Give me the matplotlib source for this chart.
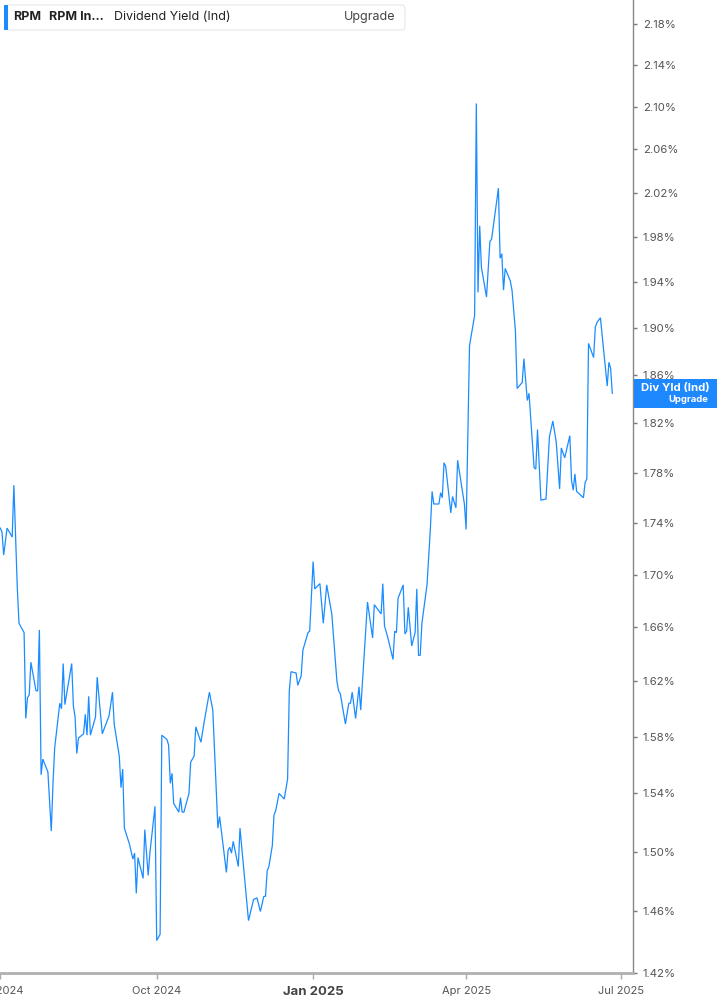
import matplotlib
matplotlib.use("Agg")
import matplotlib.pyplot as plt
import matplotlib.dates as mdates
from matplotlib.ticker import FixedLocator, FuncFormatter, NullLocator
from matplotlib.patches import FancyBboxPatch, Rectangle
import pandas as pd

dates = [
    "2024-07-01", "2024-07-02", "2024-07-03", "2024-07-05", "2024-07-08", "2024-07-09", "2024-07-11", "2024-07-12",
    "2024-07-15", "2024-07-16", "2024-07-17", "2024-07-18", "2024-07-19", "2024-07-22", "2024-07-23", "2024-07-24",
    "2024-07-25", "2024-07-26", "2024-07-29", "2024-07-31", "2024-08-01", "2024-08-02", "2024-08-05", "2024-08-06",
    "2024-08-07", "2024-08-08", "2024-08-12", "2024-08-13", "2024-08-14", "2024-08-15", "2024-08-16", "2024-08-19",
    "2024-08-20", "2024-08-21", "2024-08-22", "2024-08-23", "2024-08-26", "2024-08-27", "2024-08-30", "2024-09-03",
    "2024-09-05", "2024-09-06", "2024-09-09", "2024-09-10", "2024-09-11", "2024-09-12", "2024-09-15", "2024-09-17",
    "2024-09-18", "2024-09-19", "2024-09-20", "2024-09-23", "2024-09-24", "2024-09-26", "2024-09-27", "2024-09-30",
    "2024-10-01", "2024-10-03", "2024-10-04", "2024-10-07", "2024-10-08", "2024-10-09", "2024-10-10", "2024-10-11",
    "2024-10-14", "2024-10-15", "2024-10-16", "2024-10-17", "2024-10-20", "2024-10-21", "2024-10-23", "2024-10-24",
    "2024-10-27", "2024-10-29", "2024-11-01", "2024-11-03", "2024-11-06", "2024-11-07", "2024-11-11", "2024-11-12",
    "2024-11-13", "2024-11-14", "2024-11-15", "2024-11-18", "2024-11-19", "2024-11-22", "2024-11-24", "2024-11-27",
    "2024-11-29", "2024-12-01", "2024-12-03", "2024-12-04", "2024-12-05", "2024-12-06", "2024-12-08", "2024-12-09",
    "2024-12-10", "2024-12-12", "2024-12-15", "2024-12-17", "2024-12-18", "2024-12-19", "2024-12-22", "2024-12-23",
    "2024-12-25", "2024-12-26", "2024-12-29", "2024-12-30", "2025-01-01", "2025-01-02", "2025-01-05", "2025-01-07",
    "2025-01-09", "2025-01-12", "2025-01-15", "2025-01-16", "2025-01-17", "2025-01-20", "2025-01-22", "2025-01-23",
    "2025-01-24", "2025-01-26", "2025-01-28", "2025-01-29", "2025-02-02", "2025-02-05", "2025-02-06", "2025-02-10",
    "2025-02-11", "2025-02-12", "2025-02-14", "2025-02-17", "2025-02-18", "2025-02-19", "2025-02-20", "2025-02-23",
    "2025-02-24", "2025-02-25", "2025-02-26", "2025-02-28", "2025-03-02", "2025-03-03", "2025-03-04", "2025-03-05",
    "2025-03-06", "2025-03-09", "2025-03-11", "2025-03-12", "2025-03-13", "2025-03-16", "2025-03-17", "2025-03-18",
    "2025-03-19", "2025-03-20", "2025-03-23", "2025-03-24", "2025-03-26", "2025-03-27", "2025-03-30", "2025-03-31",
    "2025-04-01", "2025-04-03", "2025-04-06", "2025-04-07", "2025-04-08", "2025-04-09", "2025-04-10", "2025-04-13",
    "2025-04-15", "2025-04-16", "2025-04-20", "2025-04-21", "2025-04-22", "2025-04-23", "2025-04-24", "2025-04-27",
    "2025-04-28", "2025-04-30", "2025-05-01", "2025-05-04", "2025-05-05", "2025-05-07", "2025-05-08", "2025-05-10",
    "2025-05-11", "2025-05-12", "2025-05-13", "2025-05-15", "2025-05-18", "2025-05-20", "2025-05-22", "2025-05-24",
    "2025-05-26", "2025-05-27", "2025-05-29", "2025-06-01", "2025-06-02", "2025-06-03", "2025-06-04", "2025-06-05",
    "2025-06-09", "2025-06-10", "2025-06-11", "2025-06-12", "2025-06-15", "2025-06-16", "2025-06-17", "2025-06-19",
    "2025-06-23", "2025-06-24", "2025-06-25", "2025-06-26",
]

div_yield = [
    1.736, 1.733, 1.715, 1.736, 1.729, 1.770, 1.690, 1.663,
    1.656, 1.593, 1.608, 1.610, 1.634, 1.613, 1.613, 1.658,
    1.553, 1.564, 1.555, 1.514, 1.547, 1.572, 1.604, 1.600,
    1.633, 1.603, 1.633, 1.602, 1.594, 1.568, 1.579, 1.582,
    1.596, 1.581, 1.609, 1.581, 1.594, 1.623, 1.582, 1.595,
    1.612, 1.589, 1.566, 1.544, 1.557, 1.516, 1.505, 1.495,
    1.499, 1.472, 1.496, 1.482, 1.515, 1.484, 1.499, 1.531,
    1.441, 1.445, 1.581, 1.578, 1.574, 1.547, 1.554, 1.533,
    1.527, 1.537, 1.527, 1.527, 1.540, 1.562, 1.566, 1.587,
    1.576, 1.591, 1.612, 1.599, 1.516, 1.524, 1.486, 1.501,
    1.503, 1.499, 1.507, 1.490, 1.516, 1.478, 1.454, 1.468,
    1.469, 1.460, 1.470, 1.470, 1.487, 1.490, 1.504, 1.525,
    1.528, 1.540, 1.536, 1.550, 1.613, 1.627, 1.626, 1.617,
    1.624, 1.643, 1.656, 1.657, 1.710, 1.689, 1.693, 1.663,
    1.692, 1.670, 1.620, 1.613, 1.611, 1.589, 1.604, 1.604,
    1.612, 1.593, 1.616, 1.599, 1.679, 1.652, 1.677, 1.670,
    1.693, 1.661, 1.652, 1.636, 1.657, 1.656, 1.682, 1.692,
    1.655, 1.657, 1.675, 1.646, 1.656, 1.689, 1.639, 1.639,
    1.663, 1.692, 1.736, 1.765, 1.755, 1.755, 1.764, 1.760,
    1.788, 1.785, 1.748, 1.761, 1.752, 1.790, 1.764, 1.755,
    1.735, 1.885, 1.911, 2.103, 1.931, 1.990, 1.953, 1.927,
    1.976, 1.978, 2.024, 1.961, 1.965, 1.933, 1.952, 1.941,
    1.933, 1.898, 1.849, 1.854, 1.874, 1.839, 1.845, 1.804,
    1.784, 1.783, 1.815, 1.758, 1.759, 1.809, 1.822, 1.805,
    1.767, 1.800, 1.792, 1.810, 1.774, 1.766, 1.779, 1.765,
    1.760, 1.772, 1.775, 1.887, 1.875, 1.901, 1.905, 1.909,
    1.851, 1.871, 1.866, 1.845,
]

y_ticks = [1.42, 1.46, 1.50, 1.54, 1.58, 1.62, 1.66, 1.70, 1.74, 1.78,
           1.82, 1.86, 1.90, 1.94, 1.98, 2.02, 2.06, 2.10, 2.14, 2.18]
x_tick_dates = ["2024-07-01", "2024-10-01", "2025-01-01", "2025-04-01", "2025-07-01"]
x_tick_labels = ["Jul 2024", "Oct 2024", "Jan 2025", "Apr 2025", "Jul 2025"]

LINE = "#1a8cff"
W, H = 717, 1005
fig = plt.figure(figsize=(W / 100, H / 100), dpi=100)
fig.patch.set_facecolor("white")

ax_left, ax_right, ax_top, ax_bottom = 0, 633, 0, 973
ax = fig.add_axes([ax_left / W, 1 - ax_bottom / H, (ax_right - ax_left) / W, (ax_bottom - ax_top) / H])
ax.set_facecolor("white")

x = pd.to_datetime(dates)
ax.plot(x, div_yield, color=LINE, lw=0.9, solid_joinstyle="miter")

ax.set_yscale("log")
ax.set_ylim(1.42, 2.2036)
ax.set_xlim(pd.Timestamp("2024-06-30 20:00"), pd.Timestamp("2025-07-08 04:00"))

ax.yaxis.set_major_locator(FixedLocator(y_ticks))
ax.yaxis.set_minor_locator(NullLocator())
ax.yaxis.set_major_formatter(FuncFormatter(lambda v, p: f"{v:.2f}%"))
ax.yaxis.tick_right()
ax.tick_params(axis="y", which="major", length=3, width=1, color="#777777", pad=4,
               labelsize=8.2, labelcolor="#555555")
for lab in ax.get_yticklabels():
    lab.set_fontfamily("Inter")

xt = pd.to_datetime(x_tick_dates)
ax.set_xticks(xt)
ax.set_xticklabels(x_tick_labels)
ax.xaxis.set_minor_locator(NullLocator())
ax.tick_params(axis="x", which="major", length=4, width=1, color="#aaaaaa", pad=5,
               labelsize=8, labelcolor="#555555")
for lab in ax.get_xticklabels():
    lab.set_fontfamily("Inter")
    if lab.get_text() == "Jan 2025":
        lab.set_fontweight("bold")
        lab.set_fontsize(9.5)
        lab.set_color("#444444")

for s in ["top", "left"]:
    ax.spines[s].set_visible(False)
ax.spines["right"].set_color("#888888")
ax.spines["right"].set_linewidth(1.0)
ax.spines["bottom"].set_color("#b0b0b0")
ax.spines["bottom"].set_linewidth(2.0)

# legend box top-left
def fx(px):
    return px / W

def fy(py):
    return 1 - py / H

box = FancyBboxPatch((fx(5), fy(30)), fx(400), (25 / H), boxstyle="round,pad=0,rounding_size=0.004",
                     transform=fig.transFigure, facecolor="white", edgecolor="#e6e6e6", lw=0.8, zorder=5)
fig.patches.append(box)
bar = Rectangle((fx(4), fy(30)), fx(3.5), 25 / H, transform=fig.transFigure,
                facecolor=LINE, edgecolor="none", zorder=6)
fig.patches.append(bar)
ty = fy(17)
fig.text(fx(13), ty, "RPM", fontsize=9, fontweight="bold", color="#222222", va="center", family="Inter", zorder=7)
fig.text(fx(49), ty, "RPM In...", fontsize=9, fontweight="bold", color="#222222", va="center", family="Inter", zorder=7)
fig.text(fx(114), ty, "Dividend Yield (Ind)", fontsize=9, color="#222222", va="center", family="Inter", zorder=7)
fig.text(fx(344), ty, "Upgrade", fontsize=9, color="#444444", va="center", family="Inter", zorder=7)

# last value badge on right
last = div_yield[-1]
badge = Rectangle((fx(634), fy(408)), fx(83), 29 / H, transform=fig.transFigure,
                  facecolor="#1e88ff", edgecolor="none", zorder=6)
fig.patches.append(badge)
fig.text(fx(675), fy(388), "Div Yld (Ind)", fontsize=8.2, fontweight="bold", color="white",
         ha="center", va="center", family="Inter", zorder=7)
fig.text(fx(708), fy(399), "Upgrade", fontsize=6.8, fontweight="bold", color="white",
         ha="right", va="center", family="Inter", zorder=7)

fig.savefig("out.png", dpi=100, facecolor="white")
